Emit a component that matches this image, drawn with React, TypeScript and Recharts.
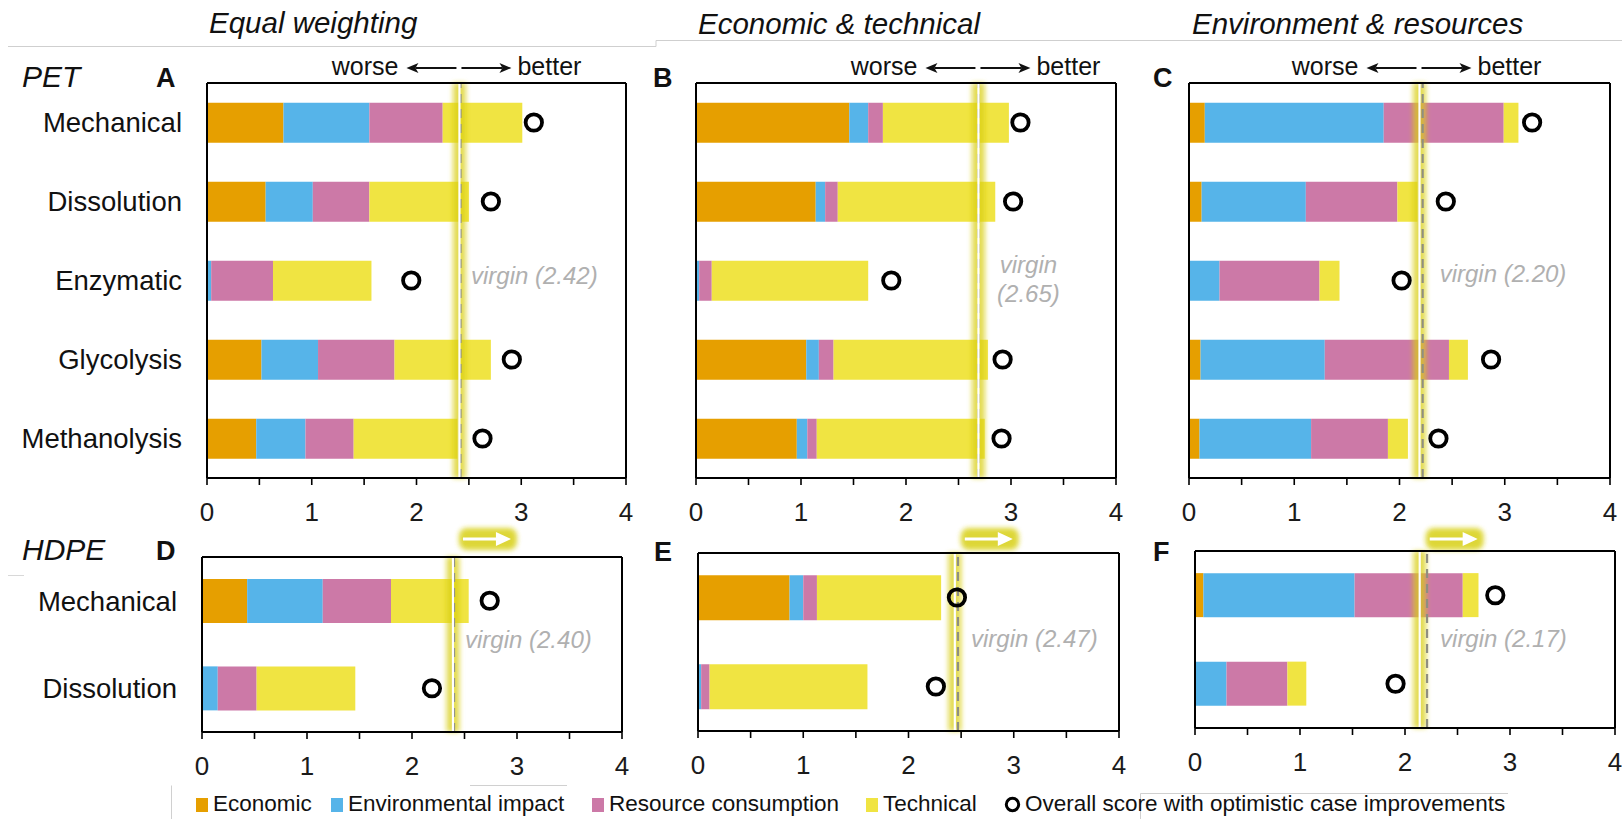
import React from 'react';
import { ComposedChart, Bar, Scatter, XAxis, YAxis, ReferenceLine } from 'recharts';

const FONT = '"Liberation Sans", Arial, Helvetica, sans-serif';

// ---- series definitions ----
const seriesNames = ['Economic', 'Environmental impact', 'Resource consumption', 'Technical'];
const seriesKeys = ['economic', 'environmental', 'resource', 'technical'];
const seriesColors = ['#E69F00', '#56B4E9', '#CC79A7', '#F0E442'];
const scoreLegend = 'Overall score with optimistic case improvements';

// ---- categories ----
const petProcesses = ['Mechanical', 'Dissolution', 'Enzymatic', 'Glycolysis', 'Methanolysis'];
const hdpeProcesses = ['Mechanical', 'Dissolution'];

// ---- x axis ----
const xTicks = [0, 0.5, 1, 1.5, 2, 2.5, 3, 3.5, 4];
const xDomain = [0, 4];

// ---- Panel A : PET, equal weighting ----
const aEconomic = [0.73, 0.56, 0, 0.52, 0.47];
const aEnvironmental = [0.82, 0.45, 0.04, 0.54, 0.47];
const aResource = [0.7, 0.54, 0.59, 0.73, 0.46];
const aTechnical = [0.76, 0.95, 0.94, 0.92, 0.99];
const aOptimistic = [3.12, 2.71, 1.95, 2.91, 2.63];

// ---- Panel B : PET, economic & technical ----
const bEconomic = [1.46, 1.14, 0, 1.05, 0.96];
const bEnvironmental = [0.18, 0.09, 0.03, 0.12, 0.1];
const bResource = [0.14, 0.12, 0.12, 0.14, 0.09];
const bTechnical = [1.2, 1.5, 1.49, 1.47, 1.6];
const bOptimistic = [3.09, 3.02, 1.86, 2.92, 2.91];

// ---- Panel C : PET, environment & resources ----
const cEconomic = [0.15, 0.12, 0, 0.11, 0.1];
const cEnvironmental = [1.7, 0.99, 0.29, 1.18, 1.06];
const cResource = [1.14, 0.87, 0.95, 1.18, 0.73];
const cTechnical = [0.14, 0.19, 0.19, 0.18, 0.19];
const cOptimistic = [3.26, 2.44, 2.02, 2.87, 2.37];

// ---- Panel D : HDPE, equal weighting ----
const dEconomic = [0.43, 0];
const dEnvironmental = [0.72, 0.15];
const dResource = [0.65, 0.37];
const dTechnical = [0.74, 0.94];
const dOptimistic = [2.74, 2.19];

// ---- Panel E : HDPE, economic & technical ----
const eEconomic = [0.87, 0];
const eEnvironmental = [0.13, 0.03];
const eResource = [0.13, 0.08];
const eTechnical = [1.18, 1.5];
const eOptimistic = [2.46, 2.26];

// ---- Panel F : HDPE, environment & resources ----
const fEconomic = [0.08, 0];
const fEnvironmental = [1.44, 0.3];
const fResource = [1.03, 0.58];
const fTechnical = [0.15, 0.18];
const fOptimistic = [2.86, 1.91];

// ---- virgin reference (dashed) and highlighted (glow) positions ----
const virginScores = [2.42, 2.69, 2.22, 2.4, 2.47, 2.21];
const highlightScores = [2.41, 2.69, 2.19, 2.39, 2.44, 2.14];
const virginLabels = [
  ['virgin (2.42)'],
  ['virgin', '(2.65)'],
  ['virgin (2.20)'],
  ['virgin (2.40)'],
  ['virgin (2.47)'],
  ['virgin (2.17)'],
];

const columnTitles = ['Equal weighting', 'Economic & technical', 'Environment & resources'];
const panelLetters = ['A', 'B', 'C', 'D', 'E', 'F'];
const plastics = ['PET', 'HDPE'];

function buildRows(names: string[], e: number[], v: number[], r: number[], t: number[], s: number[]) {
  return names.map((name, i) => ({
    name,
    economic: e[i],
    environmental: v[i],
    resource: r[i],
    technical: t[i],
    optimistic: s[i],
  }));
}

const rowsA = buildRows(petProcesses, aEconomic, aEnvironmental, aResource, aTechnical, aOptimistic);
const rowsB = buildRows(petProcesses, bEconomic, bEnvironmental, bResource, bTechnical, bOptimistic);
const rowsC = buildRows(petProcesses, cEconomic, cEnvironmental, cResource, cTechnical, cOptimistic);
const rowsD = buildRows(hdpeProcesses, dEconomic, dEnvironmental, dResource, dTechnical, dOptimistic);
const rowsE = buildRows(hdpeProcesses, eEconomic, eEnvironmental, eResource, eTechnical, eOptimistic);
const rowsF = buildRows(hdpeProcesses, fEconomic, fEnvironmental, fResource, fTechnical, fOptimistic);

function RingDot(props: any) {
  const { cx, cy } = props;
  if (cx == null || cy == null) return <g />;
  return <circle cx={cx} cy={cy} r={8.2} fill="none" stroke="#000" strokeWidth={3.8} />;
}

type PanelProps = {
  rows: any[];
  idx: number;
  showLabels: boolean;
  frame: { left: number; top: number; width: number; height: number };
  plot: { left: number; top: number; right: number; bottom: number };
  labelDx: number;
  labelDy: number;
  labelAnchor: 'start' | 'middle';
  header: 'worse' | 'arrow';
  arrowDy: number;
};

const AXIS_H = 45;

function Panel(p: PanelProps) {
  const yW = p.showLabels ? 190 : 1;
  const margin = {
    left: p.plot.left - p.frame.left - yW,
    top: p.plot.top - p.frame.top - 1,
    right: p.frame.left + p.frame.width - p.plot.right - 1,
    bottom: p.frame.top + p.frame.height - p.plot.bottom - AXIS_H,
  };
  const axisLine = { stroke: '#000', strokeWidth: 2 };
  const virgin = virginScores[p.idx];
  const highlight = highlightScores[p.idx];
  const lines = virginLabels[p.idx];

  const headerContent = (lp: any) => {
    const vb = lp && lp.viewBox;
    if (!vb) return null;
    const x = vb.x;
    const y = vb.y;
    if (p.header === 'worse') {
      const ay = y - 15;
      return (
        <g>
          <text x={x - 61} y={y - 8} textAnchor="end" fontSize={25} fontFamily={FONT} fill="#111">worse</text>
          <line x1={x - 3} y1={ay} x2={x - 44} y2={ay} stroke="#111" strokeWidth={2} />
          <path d={`M${x - 53},${ay} L${x - 41},${ay - 5} L${x - 44},${ay} L${x - 41},${ay + 5} Z`} fill="#111" />
          <line x1={x + 2} y1={ay} x2={x + 43} y2={ay} stroke="#111" strokeWidth={2} />
          <path d={`M${x + 52},${ay} L${x + 40},${ay - 5} L${x + 43},${ay} L${x + 40},${ay + 5} Z`} fill="#111" />
          <text x={x + 58} y={y - 8} textAnchor="start" fontSize={25} fontFamily={FONT} fill="#111">better</text>
        </g>
      );
    }
    const ay = y + p.arrowDy;
    return (
      <g>
        <rect x={x + 6} y={ay - 11} width={58} height={22} rx={8} fill="#d8d018" opacity={0.85} filter="url(#softglow)" />
        <line x1={x + 10} y1={ay} x2={x + 45} y2={ay} stroke="#fff" strokeWidth={3} />
        <path d={`M${x + 58},${ay} L${x + 43},${ay - 7} L${x + 43},${ay + 7} Z`} fill="#fff" />
      </g>
    );
  };

  const virginContent = (lp: any) => {
    const vb = lp && lp.viewBox;
    if (!vb) return null;
    const x = vb.x + p.labelDx;
    const y = vb.y + vb.height / 2 + p.labelDy;
    return (
      <g>
        {lines.map((ln, i) => (
          <text
            key={i}
            x={x}
            y={y + i * 29}
            textAnchor={p.labelAnchor}
            fontSize={24}
            fontStyle="italic"
            fontFamily={FONT}
            fill="#b0b0b0"
          >
            {ln}
          </text>
        ))}
      </g>
    );
  };

  return (
    <div style={{ position: 'absolute', left: p.frame.left, top: p.frame.top }}>
      <ComposedChart
        width={p.frame.width}
        height={p.frame.height}
        data={p.rows}
        layout="vertical"
        margin={margin}
        barCategoryGap="25%"
      >
        <XAxis
          type="number"
          domain={xDomain}
          ticks={xTicks}
          interval={0}
          allowDataOverflow
          tickFormatter={(v: number) => (Number.isInteger(v) ? String(v) : '')}
          tickSize={7}
          tickMargin={18}
          height={AXIS_H}
          axisLine={axisLine}
          tickLine={{ stroke: '#000', strokeWidth: 1.6 }}
          tick={{ fontSize: 26, fill: '#1a1a1a', fontFamily: FONT }}
        />
        <XAxis
          xAxisId="top"
          orientation="top"
          type="number"
          domain={xDomain}
          height={1}
          tick={false}
          tickLine={false}
          axisLine={axisLine}
        />
        <YAxis
          type="category"
          dataKey="name"
          width={yW}
          tickSize={0}
          tickMargin={25}
          tickLine={false}
          axisLine={axisLine}
          interval={0}
          tick={p.showLabels ? { fontSize: 27.5, fill: '#111', fontFamily: FONT } : false}
        />
        <YAxis
          yAxisId="right"
          orientation="right"
          type="category"
          dataKey="name"
          width={1}
          tick={false}
          tickLine={false}
          axisLine={axisLine}
        />
        {seriesKeys.map((k, i) => (
          <Bar key={k} dataKey={k} name={seriesNames[i]} stackId="s" fill={seriesColors[i]} isAnimationActive={false} />
        ))}
        <ReferenceLine
          x={highlight}
          stroke="#d8cf14"
          strokeWidth={13}
          strokeOpacity={0.72}
          filter="url(#softglow)"
          ifOverflow="visible"
        />
        <ReferenceLine
          x={virgin}
          stroke="#8f8f80"
          strokeWidth={2.2}
          strokeDasharray="9 6"
          ifOverflow="visible"
          label={virginContent}
        />
        <ReferenceLine
          x={highlight}
          stroke="#ffffff"
          strokeWidth={2.2}
          ifOverflow="visible"
          label={headerContent}
        />
        <Scatter dataKey="optimistic" name={scoreLegend} shape={RingDot} isAnimationActive={false} />
      </ComposedChart>
    </div>
  );
}

function Overlay() {
  const legendSquares = [196, 331, 592, 866];
  return (
    <svg
      width={1622}
      height={819}
      style={{ position: 'absolute', left: 0, top: 0, pointerEvents: 'none' }}
      fontFamily={FONT}
    >
      <defs>
        <filter id="softglow" filterUnits="userSpaceOnUse" x={-200} y={-200} width={2200} height={1400}>
          <feGaussianBlur stdDeviation="2.6" />
        </filter>
      </defs>
      <path d="M8,46.5 H656 V40.5 H1622" fill="none" stroke="#cfcfcf" strokeWidth={1} />
      <path d="M8,575.5 H24" fill="none" stroke="#d8d8d8" strokeWidth={1} />
      <path d="M171.5,819 V785.5" fill="none" stroke="#d0d0d0" strokeWidth={1} />
      <path d="M470,785.5 H567" fill="none" stroke="#d0d0d0" strokeWidth={1} />
      <path d="M1140.5,819 V793.5 H1508" fill="none" stroke="#d0d0d0" strokeWidth={1} />

      <text x={209} y={33} fontSize={29.5} fontStyle="italic" fill="#111">{columnTitles[0]}</text>
      <text x={698} y={34} fontSize={29.5} fontStyle="italic" fill="#111">{columnTitles[1]}</text>
      <text x={1192} y={34} fontSize={29.5} fontStyle="italic" fill="#111">{columnTitles[2]}</text>

      <text x={22} y={87} fontSize={30} fontStyle="italic" fill="#111">{plastics[0]}</text>
      <text x={22} y={560} fontSize={30} fontStyle="italic" fill="#111">{plastics[1]}</text>

      <text x={156} y={87} fontSize={27} fontWeight="bold" fill="#111">{panelLetters[0]}</text>
      <text x={653} y={87} fontSize={27} fontWeight="bold" fill="#111">{panelLetters[1]}</text>
      <text x={1153} y={87} fontSize={27} fontWeight="bold" fill="#111">{panelLetters[2]}</text>
      <text x={156} y={560} fontSize={27} fontWeight="bold" fill="#111">{panelLetters[3]}</text>
      <text x={654} y={561} fontSize={27} fontWeight="bold" fill="#111">{panelLetters[4]}</text>
      <text x={1153} y={561} fontSize={27} fontWeight="bold" fill="#111">{panelLetters[5]}</text>

      {seriesNames.map((n, i) => (
        <g key={n}>
          <rect x={legendSquares[i]} y={798} width={12} height={14} fill={seriesColors[i]} />
          <text x={legendSquares[i] + 17} y={811} fontSize={22.5} fill="#111">{n}</text>
        </g>
      ))}
      <circle cx={1012.5} cy={804.5} r={6.2} fill="none" stroke="#000" strokeWidth={3} />
      <text x={1025} y={811} fontSize={22.5} fill="#111">{scoreLegend}</text>
    </svg>
  );
}

export default function App() {
  return (
    <div style={{ position: 'relative', width: 1622, height: 819, background: '#fff', overflow: 'hidden' }}>
      <style>{'body{margin:0;}'}</style>
      <Overlay />
      <Panel
        rows={rowsA}
        idx={0}
        showLabels
        frame={{ left: 0, top: 45, width: 650, height: 500 }}
        plot={{ left: 207, top: 83, right: 626, bottom: 478 }}
        labelDx={10.5}
        labelDy={3}
        labelAnchor="start"
        header="worse"
        arrowDy={0}
      />
      <Panel
        rows={rowsB}
        idx={1}
        showLabels={false}
        frame={{ left: 640, top: 45, width: 500, height: 500 }}
        plot={{ left: 696, top: 83, right: 1116, bottom: 478 }}
        labelDx={50}
        labelDy={-7.5}
        labelAnchor="middle"
        header="worse"
        arrowDy={0}
      />
      <Panel
        rows={rowsC}
        idx={2}
        showLabels={false}
        frame={{ left: 1140, top: 45, width: 482, height: 500 }}
        plot={{ left: 1189, top: 83, right: 1610, bottom: 478 }}
        labelDx={17}
        labelDy={1}
        labelAnchor="start"
        header="worse"
        arrowDy={0}
      />
      <Panel
        rows={rowsD}
        idx={3}
        showLabels
        frame={{ left: 0, top: 515, width: 650, height: 300 }}
        plot={{ left: 202, top: 557, right: 622, bottom: 732 }}
        labelDx={11}
        labelDy={3}
        labelAnchor="start"
        header="arrow"
        arrowDy={-18}
      />
      <Panel
        rows={rowsE}
        idx={4}
        showLabels={false}
        frame={{ left: 640, top: 515, width: 500, height: 300 }}
        plot={{ left: 698, top: 553, right: 1119, bottom: 731 }}
        labelDx={13}
        labelDy={5}
        labelAnchor="start"
        header="arrow"
        arrowDy={-14}
      />
      <Panel
        rows={rowsF}
        idx={5}
        showLabels={false}
        frame={{ left: 1140, top: 515, width: 482, height: 300 }}
        plot={{ left: 1195, top: 551, right: 1615, bottom: 728 }}
        labelDx={13}
        labelDy={7}
        labelAnchor="start"
        header="arrow"
        arrowDy={-12}
      />
    </div>
  );
}
